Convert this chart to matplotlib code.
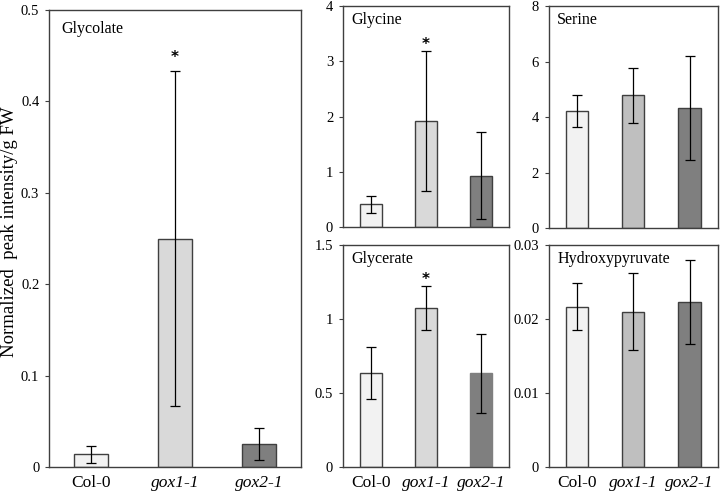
import matplotlib
matplotlib.use('Agg')
import matplotlib.pyplot as plt
import numpy as np

plt.rcParams['font.family'] = ['Liberation Serif', 'DejaVu Serif']

genotypes = ['Col-0', 'gox1-1', 'gox2-1']

glycolate = [0.014, 0.250, 0.025]
glycolate_err = [0.0095, 0.183, 0.0175]
glycine = [0.41, 1.92, 0.93]
glycine_err = [0.155, 1.26, 0.79]
serine = [4.22, 4.78, 4.32]
serine_err = [0.59, 1.00, 1.87]
glycerate = [0.633, 1.077, 0.633]
glycerate_err = [0.175, 0.148, 0.267]
hydroxypyruvate = [0.0217, 0.0210, 0.0223]
hydroxypyruvate_err = [0.0032, 0.0052, 0.0057]

frame_col = '#3f3f3f'
light_cols = ['#f2f2f2', '#d9d9d9', '#7f7f7f']
mid_cols = ['#f2f2f2', '#bfbfbf', '#7f7f7f']

fig = plt.figure(figsize=(7.22, 4.94), dpi=100)

panels = [
    ('Glycolate', glycolate, glycolate_err, (0.0, 0.5), [0, 0.1, 0.2, 0.3, 0.4, 0.5],
     ['0', '0.1', '0.2', '0.3', '0.4', '0.5'], [0.068, 0.0547, 0.349, 0.925], light_cols, 1, 7, True),
    ('Glycine', glycine, glycine_err, (0, 4), [0, 1, 2, 3, 4],
     ['0', '1', '2', '3', '4'], [0.475, 0.5405, 0.230, 0.447], light_cols, 1, 1.5, False),
    ('Serine', serine, serine_err, (0, 8), [0, 2, 4, 6, 8],
     ['0', '2', '4', '6', '8'], [0.760, 0.5385, 0.234, 0.449], mid_cols, None, 0, False),
    ('Glycerate', glycerate, glycerate_err, (0, 1.5), [0, 0.5, 1, 1.5],
     ['0', '0.5', '1', '1.5'], [0.475, 0.0547, 0.230, 0.449], light_cols, 1, 1, True),
    ('Hydroxypyruvate', hydroxypyruvate, hydroxypyruvate_err, (0, 0.03), [0, 0.01, 0.02, 0.03],
     ['0', '0.01', '0.02', '0.03'], [0.760, 0.0547, 0.234, 0.449], mid_cols, None, 0, True),
]

x = np.arange(len(genotypes))

for name, vals, errs, ylim, yticks, ylabels, pos, cols, star, star_off, show_x in panels:
    ax = fig.add_axes(pos)
    edges = [frame_col, frame_col, frame_col]
    if name == 'Glycerate':
        edges[2] = cols[2]
    ax.bar(x, vals, width=0.4, color=cols, edgecolor=edges, linewidth=1.0, zorder=2)
    ax.errorbar(x, vals, yerr=errs, fmt='none', ecolor='black', elinewidth=0.9,
                capsize=3.5, capthick=0.9, zorder=3)
    if star is not None:
        ax.annotate('*', xy=(x[star], vals[star] + errs[star]), xytext=(0, star_off),
                    textcoords='offset points', ha='center', va='baseline',
                    fontsize=11, fontweight='bold', family='DejaVu Sans')
    ax.set_xlim(-0.5, 2.5)
    ax.set_ylim(*ylim)
    ax.set_yticks(yticks)
    ax.set_yticklabels(ylabels, fontsize=10.5)
    ax.tick_params(axis='y', direction='out', length=3, width=0.8, color=frame_col, pad=4)
    ax.set_xticks(x)
    if show_x:
        ax.set_xticklabels(genotypes, fontsize=12.5)
        for lab in ax.get_xticklabels()[1:]:
            lab.set_fontstyle('italic')
    else:
        ax.set_xticklabels([])
    ax.tick_params(axis='x', length=0, pad=6)
    for sp in ax.spines.values():
        sp.set_color(frame_col)
        sp.set_linewidth(1.0)
    ax.text(0.05, 0.975, name, transform=ax.transAxes, ha='left', va='top', fontsize=11.5)

fig.text(0.0125, 0.53, 'Normalized  peak intensity/g FW', rotation=90,
         ha='center', va='center', fontsize=13.5)

fig.savefig('out.png', dpi=100)
